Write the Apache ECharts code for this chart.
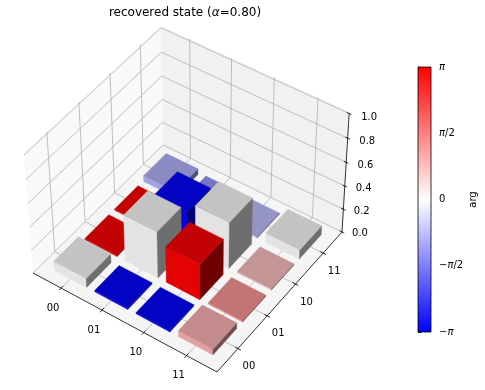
<!DOCTYPE html>
<html>
<head>
<meta charset="utf-8">
<style>
  html, body { margin: 0; padding: 0; background: #fff; }
  #main { width: 485px; height: 390px; }
</style>
<script src="https://cdn.jsdelivr.net/npm/echarts@6/dist/echarts.min.js"></script>
</head>
<body>
<div id="main"></div>
<script>
var FONT = '"DejaVu Sans"'

var categories = ['00', '01', '10', '11']
var zTicks = [0, 0.2, 0.4, 0.6, 0.8, 1]
var zTickLabels = ['0.0', '0.2', '0.4', '0.6', '0.8', '1.0']

// one row per x category, one column per y category
var heights = [
  [0.08, 0.012, 0.012, 0.05],
  [0.012, 0.4, 0.31, 0.02],
  [0.012, 0.31, 0.4, 0.012],
  [0.05, 0.012, 0.012, 0.08]
]
var phases = [
  [0, 3.1, 3.1, -0.9],
  [-3.1, 0, -3.1, -1.25],
  [-3.1, 3.1, 0, -0.75],
  [0.9, 1.25, 0.75, 0]
]

// perspective camera fitted to the box corners: unit cube -> screen pixels
var CAM = [
  [173.66, 139.98, -10.2, 33],
  [81.27, -119.12, -125.75, 273],
  [-0.04767, 0.06122, -0.05, 1]
]
function project(x, y, z) {
  var w = CAM[2][0] * x + CAM[2][1] * y + CAM[2][2] * z + CAM[2][3]
  return [
    (CAM[0][0] * x + CAM[0][1] * y + CAM[0][2] * z + CAM[0][3]) / w,
    (CAM[1][0] * x + CAM[1][1] * y + CAM[1][2] * z + CAM[1][3]) / w
  ]
}

// category index -> 0..1 along the floor, the limits run -0.7..3.7
function floorPos(v) {
  return (v + 0.7) / 4.4
}

// bwr colormap, phase in -pi..pi
function bwr(phase, shade) {
  var t = phase / Math.PI
  var r = t < 0 ? 1 + t : 1
  var g = 1 - Math.abs(t)
  var b = t > 0 ? 1 - t : 1
  return 'rgb(' + [r, g, b].map(function(c) { return Math.round(c * shade * 255) }).join(',') + ')'
}

var barData = []
heights.forEach(function(row, i) {
  row.forEach(function(h, j) {
    barData.push([i, j, h, phases[i][j]])
  })
})
// painter's order, back corner first
barData.sort(function(a, b) { return (a[0] - a[1]) - (b[0] - b[1]) })

function renderBar(params, api) {
  var x0 = floorPos(api.value(0) - 0.4)
  var x1 = floorPos(api.value(0) + 0.4)
  var y0 = floorPos(api.value(1) - 0.4)
  var y1 = floorPos(api.value(1) + 0.4)
  var h = api.value(2)
  var phase = api.value(3)
  function p(x, y, z) { return api.coord(project(x, y, z)) }
  function face(points, shade) {
    var color = bwr(phase, shade)
    return { type: 'polygon', shape: { points: points }, style: { fill: color, stroke: color, lineWidth: 0.4 } }
  }
  return {
    type: 'group',
    children: [
      face([p(x0, y0, 0), p(x1, y0, 0), p(x1, y0, h), p(x0, y0, h)], 0.89),
      face([p(x1, y0, 0), p(x1, y1, 0), p(x1, y1, h), p(x1, y0, h)], 0.43),
      face([p(x0, y0, h), p(x1, y0, h), p(x1, y1, h), p(x0, y1, h)], 0.765)
    ]
  }
}

function renderBox(params, api) {
  function p(x, y, z) { return api.coord(project(x, y, z)) }
  function line(a, b, color, width) {
    return {
      type: 'line',
      shape: { x1: a[0], y1: a[1], x2: b[0], y2: b[1] },
      style: { stroke: color, lineWidth: width }
    }
  }
  function pane(points, fill) {
    return { type: 'polygon', shape: { points: points }, style: { fill: fill } }
  }
  function label(text, pos, dx, dy) {
    return {
      type: 'text',
      style: { text: text, x: pos[0] + dx, y: pos[1] + dy, align: 'center', verticalAlign: 'middle', fill: '#000', fontFamily: FONT, fontSize: 10 }
    }
  }
  var TOP = 1.015 // the panes stick out a little above the last tick
  var kids = [
    pane([p(0, 0, 0), p(1, 0, 0), p(1, 1, 0), p(0, 1, 0)], '#f5f5f5'),
    pane([p(0, 0, 0), p(0, 1, 0), p(0, 1, TOP), p(0, 0, TOP)], '#f9f9f9'),
    pane([p(0, 1, 0), p(1, 1, 0), p(1, 1, TOP), p(0, 1, TOP)], '#f1f1f1')
  ]
  var GRID = '#b0b0b0'
  categories.forEach(function(c, i) {
    var t = floorPos(i)
    kids.push(line(p(t, 0, 0), p(t, 1, 0), GRID, 0.8))
    kids.push(line(p(t, 1, 0), p(t, 1, TOP), GRID, 0.8))
    kids.push(line(p(1, t, 0), p(0, t, 0), GRID, 0.8))
    kids.push(line(p(0, t, 0), p(0, t, TOP), GRID, 0.8))
  })
  zTicks.forEach(function(z) {
    kids.push(line(p(0, 0, z), p(0, 1, z), GRID, 0.8))
    kids.push(line(p(0, 1, z), p(1, 1, z), GRID, 0.8))
  })
  kids.push(line(p(0, 0, 0), p(1, 0, 0), '#000', 0.8))
  kids.push(line(p(1, 0, 0), p(1, 1, 0), '#000', 0.8))
  kids.push(line(p(1, 1, 0), p(1, 1, 1), '#000', 0.8))
  categories.forEach(function(c, i) {
    var t = floorPos(i)
    kids.push(line(p(t, -0.015, 0), p(t, 0.015, 0), '#000', 0.8))
    kids.push(label(c, p(t, 0, 0), -8, 20))
    kids.push(line(p(1.015, t, 0), p(0.985, t, 0), '#000', 0.8))
    kids.push(label(c, p(1, t, 0), 11, 18))
  })
  zTicks.forEach(function(z, i) {
    kids.push(line(p(0.988, 1, z), p(1.012, 1, z), '#000', 0.8))
    kids.push(label(zTickLabels[i], p(1, 1, z), 18 + z * 2, 1.5 + z * 2))
  })
  return { type: 'group', children: kids }
}

function renderColorbar(params, api) {
  var a = api.coord([0, Math.PI])
  var b = api.coord([1, -Math.PI])
  return {
    type: 'rect',
    shape: { x: a[0], y: a[1], width: b[0] - a[0], height: b[1] - a[1] },
    style: {
      fill: new echarts.graphic.LinearGradient(0, 0, 0, 1, [
        { offset: 0, color: '#ff0000' },
        { offset: 0.5, color: '#ffffff' },
        { offset: 1, color: '#0000ff' }
      ])
    }
  }
}

var piLabels = { '-2': '\u2212{i|\u03c0}', '-1': '\u2212{i|\u03c0}/2', '0': '0', '1': '{i|\u03c0}/2', '2': '{i|\u03c0}' }

var chart = echarts.init(document.getElementById('main'), null, { renderer: 'canvas' })
chart.setOption({
  animation: false,
  backgroundColor: '#fff',
  title: {
    text: '{n|recovered state (}{i|\u03b1}{n|=0.80)}',
    left: 180,
    top: 2,
    textAlign: 'center',
    textStyle: {
      rich: {
        n: { fontFamily: FONT, fontSize: 12, fontWeight: 'normal', color: '#000' },
        i: { fontFamily: FONT, fontSize: 12, fontWeight: 'normal', fontStyle: 'italic', color: '#000' }
      }
    }
  },
  grid: [
    { left: 0, top: 0, width: 485, height: 390 },
    { left: 418, top: 67, width: 13, height: 265, show: true, borderColor: '#000', borderWidth: 0.8, backgroundColor: 'transparent', z: 5 }
  ],
  xAxis: [
    { gridIndex: 0, type: 'value', min: 0, max: 485, show: false },
    { gridIndex: 1, type: 'value', min: 0, max: 1, show: false }
  ],
  yAxis: [
    { gridIndex: 0, type: 'value', min: 0, max: 390, inverse: true, show: false },
    {
      gridIndex: 1,
      type: 'value',
      position: 'right',
      min: -Math.PI,
      max: Math.PI,
      interval: Math.PI / 2,
      name: 'arg',
      nameLocation: 'middle',
      nameRotate: 90,
      nameGap: 37,
      nameTextStyle: { fontFamily: FONT, fontSize: 10, color: '#000' },
      splitLine: { show: false },
      axisLine: { show: true, lineStyle: { color: '#000', width: 0.8 } },
      axisTick: { show: true, length: 3.5, lineStyle: { color: '#000', width: 0.8 } },
      axisLabel: {
        margin: 8,
        fontFamily: FONT,
        fontSize: 10,
        color: '#000',
        formatter: function(v) { return piLabels[String(Math.round(v / (Math.PI / 2)))] },
        rich: { i: { fontFamily: FONT, fontSize: 10, fontStyle: 'italic', color: '#000' } }
      }
    }
  ],
  series: [
    { type: 'custom', xAxisIndex: 0, yAxisIndex: 0, coordinateSystem: 'cartesian2d', silent: true, clip: false, z: 1, data: [[0, 0]], renderItem: renderBox },
    { type: 'custom', xAxisIndex: 0, yAxisIndex: 0, coordinateSystem: 'cartesian2d', silent: true, clip: false, z: 2, data: barData, renderItem: renderBar },
    { type: 'custom', xAxisIndex: 1, yAxisIndex: 1, coordinateSystem: 'cartesian2d', silent: true, clip: false, z: 3, data: [[0, 0]], renderItem: renderColorbar }
  ]
})
</script>
</body>
</html>
